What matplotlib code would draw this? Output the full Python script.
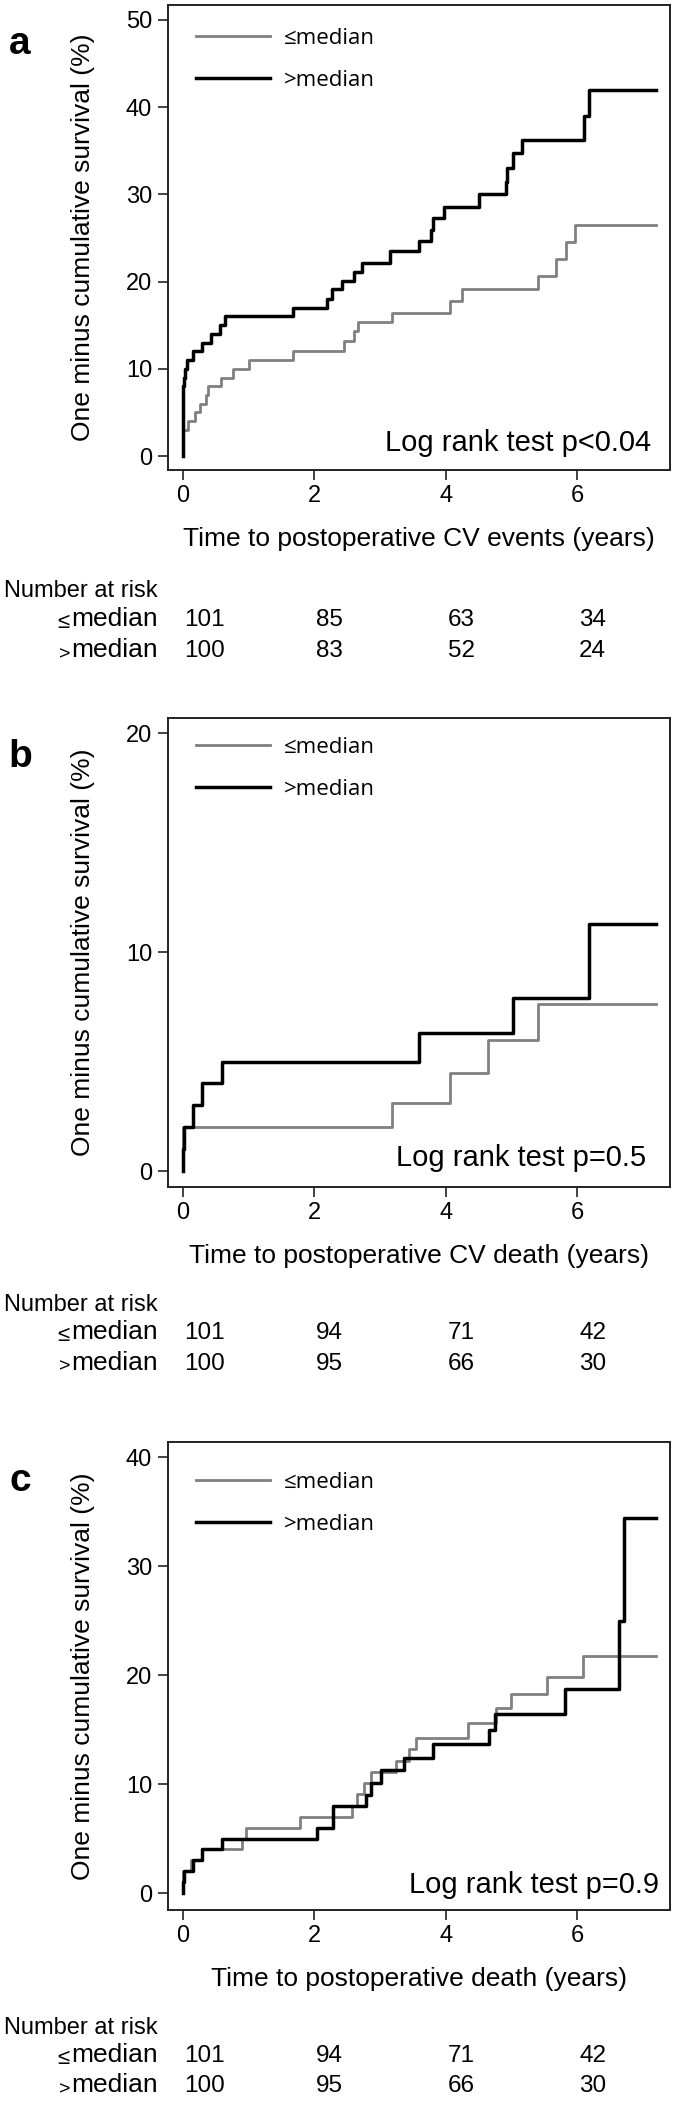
import matplotlib.pyplot as plt
import matplotlib.transforms as mtransforms

plt.rcParams['font.family'] = ['Liberation Sans', 'DejaVu Sans']

W, H = 675, 2101
GRAY = '#808080'

# (a) postoperative CV events, one minus survival in %
a_low_t = [0, 0, 0.08, 0.19, 0.27, 0.36, 0.38, 0.59, 0.76, 1.01, 1.68, 2.45, 2.60, 2.67, 3.19,
           4.07, 4.24, 5.41, 5.67, 5.83, 5.97, 7.2]
a_low_y = [0, 3, 4, 5, 6, 7, 8, 9, 10, 11, 12, 13.2, 14.3, 15.4, 16.4, 17.8, 19.1, 20.7, 22.6,
           24.5, 26.5, 26.5]
a_high_t = [0, 0, 0.01, 0.02, 0.04, 0.07, 0.16, 0.30, 0.43, 0.57, 0.64, 1.68, 2.19, 2.27, 2.43,
            2.61, 2.73, 3.15, 3.60, 3.78, 3.81, 3.98, 4.50, 4.91, 4.93, 5.03, 5.16, 6.11, 6.18, 7.2]
a_high_y = [0, 6, 8, 9, 10, 11, 12, 13, 14, 15, 16, 17, 18, 19.1, 20.1, 21.1, 22.1, 23.5, 24.6,
            25.9, 27.3, 28.6, 30.0, 31.4, 33.0, 34.7, 36.2, 39.0, 42.0, 42.0]
a_risk_low = [101, 85, 63, 34]
a_risk_high = [100, 83, 52, 24]

# (b) postoperative CV death
b_low_t = [0, 0.01, 3.19, 4.07, 4.65, 5.41, 7.2]
b_low_y = [0, 2, 3.1, 4.5, 6.0, 7.65, 7.65]
b_high_t = [0, 0, 0.02, 0.16, 0.30, 0.60, 3.60, 5.03, 6.18, 7.2]
b_high_y = [0, 1, 2, 3, 4, 5, 6.3, 7.9, 11.3, 11.3]
b_risk_low = [101, 94, 71, 42]
b_risk_high = [100, 95, 66, 30]

# (c) postoperative death
c_low_t = [0, 0, 0.01, 0.13, 0.30, 0.90, 0.97, 1.79, 2.57, 2.65, 2.75, 2.87, 3.25, 3.44, 3.55,
           4.34, 4.76, 4.99, 5.54, 6.08, 7.2]
c_low_y = [0, 1, 2, 3, 4, 5, 6, 7, 8, 9.1, 10.1, 11.1, 12.1, 13.2, 14.2, 15.6, 17.0, 18.3, 19.8,
           21.8, 21.8]
c_high_t = [0, 0, 0.02, 0.16, 0.30, 0.60, 2.04, 2.28, 2.79, 2.86, 3.02, 3.37, 3.81, 4.66, 4.75,
            5.81, 6.64, 6.71, 7.2]
c_high_y = [0, 1, 2, 3, 4, 5, 6, 8, 9, 10.1, 11.3, 12.4, 13.7, 15.0, 16.4, 18.75, 25.0, 34.4, 34.4]
c_risk_low = [101, 94, 71, 42]
c_risk_high = [100, 95, 66, 30]

risk_times = [0, 2, 4, 6]
xticks = [0, 2, 4, 6]

fig = plt.figure(figsize=(W / 100, H / 100), dpi=100)


def panel(letter, top, bottom, low_t, low_y, high_t, high_y, ylim, yticks, xlabel, ptext,
          ptext_xy, leg_top, risk_low, risk_high, base_off):
    left, right = 167.5, 670
    ax = fig.add_axes([left / W, 1 - bottom / H, (right - left) / W, (bottom - top) / H])
    ax.step(low_t, low_y, where='post', color=GRAY, lw=2.0, label='≤median')
    ax.step(high_t, high_y, where='post', color='black', lw=2.5, label='>median')
    ax.set_xlim(-0.23, 7.41)
    ax.set_ylim(*ylim)
    ax.set_xticks(xticks)
    ax.set_yticks(yticks)
    ax.tick_params(labelsize=17, length=7, width=1.2, color='#222222')
    ax.tick_params(axis='y', pad=4)
    ax.tick_params(axis='x', pad=4)
    for s in ax.spines.values():
        s.set_color('#222222')
        s.set_linewidth(1.4)

    ax.set_ylabel('One minus cumulative survival (%)', fontsize=19)
    ax.yaxis.set_label_coords((83 - left) / (right - left), 0.5)
    ax.yaxis.label.set_va('center')
    ax.set_xlabel(xlabel, fontsize=19)
    ax.xaxis.set_label_coords(0.5, -(69 / (bottom - top)))
    ax.xaxis.label.set_va('center')

    leg_y = 1 - leg_top / (bottom - top)
    ax.legend(loc='upper left', bbox_to_anchor=(0.057, leg_y), frameon=False, borderpad=0,
              borderaxespad=0, handlelength=3.33, handletextpad=0.6, labelspacing=0.95,
              prop={'family': ['Open Sans', 'DejaVu Sans'], 'size': 16})

    ax.text(ptext_xy[0], ptext_xy[1], ptext, transform=ax.transAxes, ha='right', va='center',
            fontsize=21)

    fig.text(20 / W, 1 - (top + 39) / H, letter, fontsize=28, fontweight='bold',
             ha='center', va='center')

    # number at risk table under the axis
    trans = mtransforms.blended_transform_factory(ax.transData, fig.transFigure)
    y_head = 1 - (bottom + base_off[0]) / H
    y_low = 1 - (bottom + base_off[1]) / H
    y_high = 1 - (bottom + base_off[2]) / H
    fig.text(4 / W, y_head, 'Number at risk', fontsize=17, ha='left', va='baseline')
    for yy, sym, ssize, vals in [(y_low, '≤', 16, risk_low), (y_high, '>', 14, risk_high)]:
        fig.text(158 / W, yy, 'median', fontsize=19, ha='right', va='baseline')
        fig.text(70 / W, yy - 2 / H, sym, fontsize=ssize, ha='right', va='baseline')
        for t, n in zip(risk_times, vals):
            ax.text(t + 0.03, yy, str(n), transform=trans, fontsize=17.5, ha='left',
                    va='baseline')
    return ax


panel('a', 4.7, 470, a_low_t, a_low_y, a_high_t, a_high_y, (-1.6, 51.75), [0, 10, 20, 30, 40, 50],
      'Time to postoperative CV events (years)', 'Log rank test p<0.04', (0.962, 0.058), 23,
      a_risk_low, a_risk_high, (127, 156, 187))
panel('b', 718, 1187, b_low_t, b_low_y, b_high_t, b_high_y, (-0.73, 20.7), [0, 10, 20],
      'Time to postoperative CV death (years)', 'Log rank test p=0.5', (0.952, 0.062), 19,
      b_risk_low, b_risk_high, (124, 152, 182.5))
panel('c', 1442, 1910, c_low_t, c_low_y, c_high_t, c_high_y, (-1.56, 41.4), [0, 10, 20, 30, 40],
      'Time to postoperative death (years)', 'Log rank test p=0.9', (0.978, 0.054), 30,
      c_risk_low, c_risk_high, (124, 152, 182.5))

fig.savefig('out.png', dpi=100)
